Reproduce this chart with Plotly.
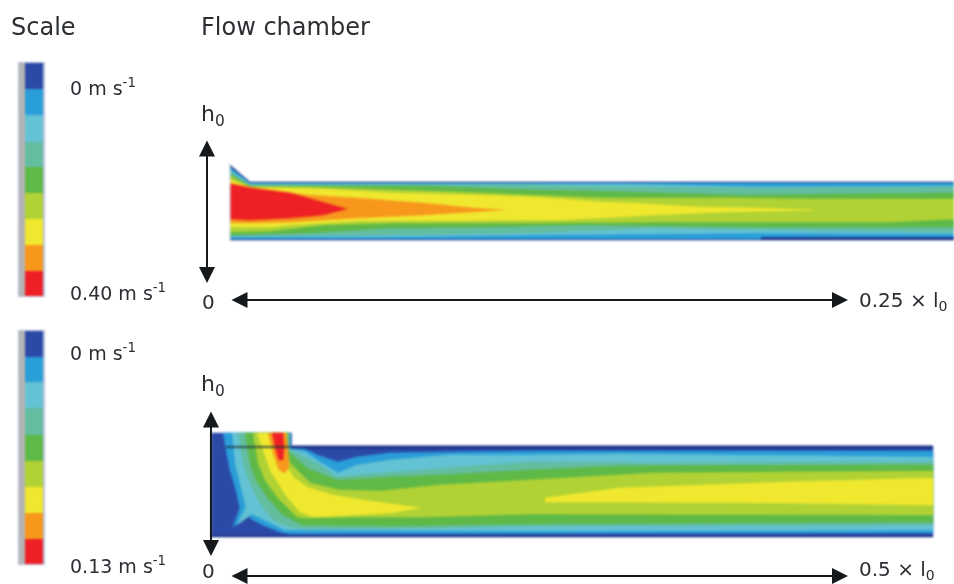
import plotly.graph_objects as go

W, H = 954, 584
band_colors = ["#2b4aa8", "#2a9ed9", "#63c2d3", "#63bd9f", "#5fb947",
               "#b1d234", "#f0e82f", "#f7981d", "#ee2025"]
NAVY = "#1d2f86"
TEXT = "#2b2f33"

# colour scale steps (top edges, last = bottom of the scale)
scale_top_edges = [63, 89, 115, 142, 167, 193, 219, 245, 271, 296]
scale_bottom_edges = [331, 357, 382, 408, 435, 461, 487, 513, 539, 564]

# Upper chamber: closed contour outlines, lowest velocity first
top_x = {
 0: [230, 250, 954, 954, 230],
 1: [230, 250, 954, 954, 761, 761, 230],
 2: [230, 250, 400, 530, 623, 763, 954, 954, 753, 530, 380, 230],
 3: [230, 250, 400, 530, 623, 763, 954, 954, 653, 530, 380, 230],
 4: [230, 250, 323, 423, 530, 587, 740, 954, 954, 753, 587, 483, 390, 307, 230],
 5: [230, 250, 307, 370, 457, 530, 603, 740, 813, 954, 954, 890, 653, 530, 483, 390, 323, 270, 230],
 6: [230, 250, 323, 390, 473, 530, 562, 600, 630, 700, 753, 813, 780, 723, 653, 603, 560, 530, 357, 290, 270, 230],
 7: [230, 250, 307, 357, 423, 473, 503, 473, 423, 357, 290, 250, 230],
 8: [230, 250, 290, 323, 347, 323, 290, 250, 230],
}
top_y = {
 0: [165, 182, 182, 240, 240],
 1: [167, 183, 183, 237, 237, 239, 239],
 2: [170, 184, 184, 184, 184, 187, 186, 234, 233, 235, 237, 237],
 3: [172, 185, 185, 185, 187, 188, 187, 232, 228, 233, 235, 236],
 4: [174, 186, 186, 186, 190, 191, 195, 193, 227, 227, 225, 227, 228, 233, 235],
 5: [176, 187, 187, 189, 192, 195, 198, 198, 199, 199, 219, 222, 222, 223, 223, 223, 225, 231, 232],
 6: [180, 187, 189, 193, 195, 197, 199, 202, 203, 207, 208, 210, 211, 212, 215, 218, 220, 220, 221, 225, 227, 227],
 7: [183, 187, 195, 198, 203, 208, 210, 212, 215, 218, 222, 223, 223],
 8: [184, 188, 193, 202, 209, 215, 218, 220, 219],
}

# Lower chamber: closed contour outlines, lowest velocity first
low_x = {
 0: [211, 291, 291, 933, 933, 211],
 1: [223, 291, 291, 305, 317, 338, 357, 390, 450, 530, 933, 933, 290, 280, 265, 253, 247, 233, 240, 236, 230, 226],
 2: [232, 290, 290, 305, 320, 338, 357, 390, 450, 530, 620, 933, 933, 530, 285, 265, 252, 237, 246, 240, 235],
 3: [238, 289, 289, 292, 317, 337, 357, 423, 530, 653, 933, 933, 530, 423, 307, 290, 273, 260, 250, 243],
 4: [245, 288, 288, 290, 307, 337, 390, 440, 530, 620, 933, 933, 530, 457, 390, 303, 283, 267, 256, 250],
 5: [253, 287, 287, 290, 310, 340, 380, 440, 530, 653, 933, 933, 530, 423, 357, 307, 297, 277, 265, 258],
 6: [257, 286, 286, 293, 307, 333, 363, 420, 390, 340, 313, 300, 287, 270],
 7: [268, 286, 288, 289, 285, 279, 273],
 8: [272, 283, 284, 283, 279, 275],
}
low_y = {
 0: [433, 433, 447, 447, 537, 537],
 1: [433, 433, 447, 449, 455, 462, 457, 453, 452, 451, 451, 533, 534, 532, 526, 520, 515, 527, 508, 490, 470, 450],
 2: [433, 433, 449, 452, 462, 473, 465, 460, 455, 455, 454, 457, 530, 531, 530, 520, 514, 525, 507, 483, 463],
 3: [433, 433, 449, 451, 463, 477, 475, 470, 462, 463, 462, 525, 526, 528, 529, 527, 520, 503, 483, 463],
 4: [433, 433, 450, 453, 468, 480, 477, 475, 470, 466, 465, 522, 524, 525, 526, 525, 515, 497, 480, 463],
 5: [433, 433, 452, 463, 483, 490, 491, 485, 480, 473, 471, 515, 514, 517, 517, 518, 517, 497, 480, 463],
 6: [433, 433, 465, 477, 487, 495, 500, 508, 513, 516, 517, 512, 497, 470],
 7: [433, 433, 450, 467, 473, 470, 453],
 8: [433, 433, 447, 460, 460, 447],
}
# Second yellow core further along the lower chamber
low_core_x = [545, 620, 787, 920, 933, 933, 787, 620, 545]
low_core_y = [498, 488, 482, 478, 478, 505, 503, 502, 502]

fig = go.Figure()

def add_poly(xs, ys, color):
    fig.add_trace(go.Scatter(x=xs, y=ys, mode="lines", fill="toself", fillcolor=color,
                             line=dict(color=color, width=0.5), hoverinfo="skip", showlegend=False))

def add_line(xs, ys, color, width):
    fig.add_trace(go.Scatter(x=xs, y=ys, mode="lines", line=dict(color=color, width=width),
                             hoverinfo="skip", showlegend=False))

# colour scales
for edges in (scale_top_edges, scale_bottom_edges):
    span = edges[-1] - edges[0]
    fig.add_trace(go.Bar(x=[31.5], width=27, base=[edges[0] - 1], y=[span + 2],
                         marker=dict(color="#b9c2de", line=dict(width=0)),
                         hoverinfo="skip", showlegend=False))
    fig.add_trace(go.Bar(x=[22], width=6, base=[edges[0]], y=[span],
                         marker=dict(color="#b4b4b4", line=dict(width=0)),
                         hoverinfo="skip", showlegend=False))
    fig.add_trace(go.Bar(x=[34] * 9, width=18,
                         base=edges[:-1],
                         y=[b - a for a, b in zip(edges[:-1], edges[1:])],
                         marker=dict(color=band_colors, line=dict(width=0)),
                         hoverinfo="skip", showlegend=False))

# upper chamber
for k in range(9):
    add_poly(top_x[k], top_y[k], band_colors[k] if k else NAVY)
add_line([230, 230], [163, 240], "#c4cfe0", 1)

# lower chamber
for k in range(9):
    add_poly(low_x[k], low_y[k], band_colors[k])
    if k == 6:
        add_poly(low_core_x, low_core_y, band_colors[6])
add_line([291, 933], [447, 447], NAVY, 3)
add_line([211, 933], [536, 536], NAVY, 2)
add_line([226, 291], [447, 447], "#17323a", 1.6)
add_line([291, 291], [433, 447], "#2a5fb0", 1.5)

def arrow(x0, y0, x1, y1):
    fig.add_annotation(x=x1, y=y1, ax=x0, ay=y0, xref="x", yref="y", axref="x", ayref="y",
                       text="", showarrow=True, arrowside="end+start", arrowhead=2,
                       arrowsize=1.6, arrowwidth=2, arrowcolor="#15191c")

arrow(207, 139, 207, 283)
arrow(230, 300, 848, 300)
arrow(211, 410, 211, 556)
arrow(230, 576, 848, 576)

def label(x, y, s, size=16):
    fig.add_annotation(x=x, y=y, text=s, xref="x", yref="y", showarrow=False,
                       xanchor="left", yanchor="middle", align="left",
                       font=dict(family="DejaVu Sans, sans-serif", size=size, color=TEXT))

label(9, 27, "Scale", 24)
label(199, 27, "Flow chamber", 24)
label(68, 87, "0 m s<sup>-1</sup>", 19)
label(68, 292, "0.40 m s<sup>-1</sup>", 19)
label(68, 352, "0 m s<sup>-1</sup>", 19)
label(68, 565, "0.13 m s<sup>-1</sup>", 19)
label(199, 115, "h<sub>0</sub>", 22)
label(199, 385, "h<sub>0</sub>", 22)
label(200, 302, "0", 20)
label(200, 571, "0", 20)
label(857, 301, "0.25 × l<sub>0</sub>", 20)
label(857, 570, "0.5 × l<sub>0</sub>", 20)

fig.update_layout(width=W, height=H, margin=dict(l=0, r=0, t=0, b=0),
                  paper_bgcolor="white", plot_bgcolor="white", barmode="overlay", bargap=0,
                  showlegend=False,
                  xaxis=dict(range=[0, W], visible=False, fixedrange=True),
                  yaxis=dict(range=[H, 0], visible=False, fixedrange=True))
fig.write_html("out.html", config=dict(displayModeBar=False),
               post_script="document.body.style.margin='0';document.documentElement.style.overflow='hidden';"
                           "document.querySelectorAll('.cartesianlayer').forEach(e=>e.style.filter='blur(0.8px)');"
                           "document.querySelectorAll('.infolayer').forEach(e=>e.style.filter='blur(0.4px)');")
